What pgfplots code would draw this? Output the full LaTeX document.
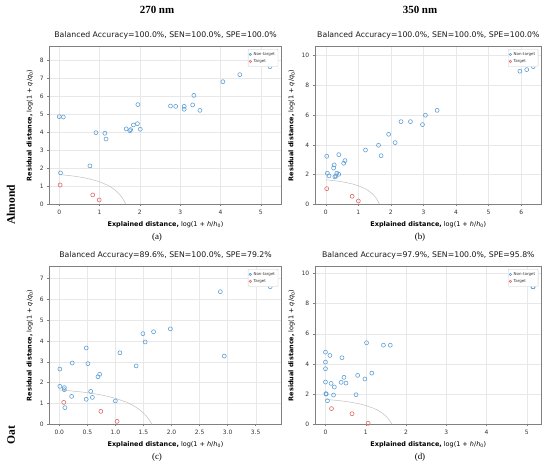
\documentclass[border=0pt]{standalone}
\usepackage{pgfplots}
\pgfplotsset{compat=1.18}
\usepackage{fontspec}
\setmainfont{DejaVu Sans}
\newfontfamily\serifrm{Liberation Serif}
\definecolor{mblue}{RGB}{95,160,215}
\definecolor{mred}{RGB}{224,105,105}
\pgfplotsset{
  panel/.style={
    scale only axis, anchor=south west,
    width=232.4bp, height=157.6bp,
    ymin=0,
    axis line style={draw=black!50, line width=0.5pt},
    tick style={draw=black!50, line width=0.4pt},
    tick align=outside, major tick length=2.2pt,
    tick pos=left,
    grid=major, grid style={draw=black!9, line width=0.3pt},
    /pgf/number format/assume math mode=true,
    ticklabel style={font=\fontsize{6}{7}\selectfont, text=black!80},
    label style={font=\fontsize{6.5}{8}\selectfont, text=black},
    xlabel={\textbf{Explained distance,} log(1 + \textit{h}/\textit{h}\textsubscript{0})},
    ylabel={\textbf{Residual distance,} log(1 + \textit{q}/\textit{q}\textsubscript{0})},
    title style={font=\fontsize{7.8}{9}\selectfont, text=black!90, inner sep=1pt},
    legend style={font=\fontsize{4}{4.5}\selectfont, at={(0.985,0.985)}, anchor=north east, draw=black!20, rounded corners=1pt, inner sep=1pt, row sep=-1.5pt, text=black!80},
    legend cell align=left,
    legend image post style={mark size=1.2pt},
  },
  nt/.style={only marks, mark=o, mark size=2pt, mblue, mark options={line width=0.6pt}},
  tg/.style={only marks, mark=o, mark size=2pt, mred, mark options={line width=0.6pt}},
  bd/.style={no marks, draw=black!25, line width=0.5pt, forget plot},
}
\begin{document}
\begin{tikzpicture}
\useasboundingbox (0bp,0bp) rectangle (550bp,468bp);

% (a)
\begin{axis}[panel, at={(49.3bp,263.7bp)}, xmin=-0.248, xmax=5.52, ymax=8.74,
  xtick={0,1,2,3,4,5}, ytick={0,1,2,3,4,5,6,7,8},
  title={Balanced Accuracy=100.0\%, SEN=100.0\%, SPE=100.0\%}]
\addplot[bd] coordinates {(0,1.6487) (0.2,1.6051) (0.4,1.5493) (0.6,1.4766) (0.8,1.3799) (1.0,1.2476) (1.2,1.0578) (1.3,0.9286) (1.4,0.7631) (1.45,0.6611) (1.5,0.5413) (1.55,0.3978) (1.58,0.2964) (1.6,0.2207) (1.62,0.1371) (1.635,0.068) (1.6487,0)};
\addplot[nt] coordinates {(0.00,4.86)(0.10,4.84)(0.03,1.74)(0.76,2.13)(0.91,3.97)(1.13,3.94)(1.16,3.62)(1.66,4.18)(1.75,4.08)(1.77,4.14)(1.84,4.40)(1.94,4.47)(1.95,5.53)(2.01,4.16)(2.76,5.45)(2.89,5.43)(3.10,5.27)(3.10,5.43)(3.34,6.04)(3.31,5.51)(3.49,5.21)(4.06,6.80)(4.48,7.19)(5.23,7.63)};
\addlegendentry{Non-target}
\addplot[tg] coordinates {(0.02,1.07)(0.83,0.52)(0.99,0.24)};
\addlegendentry{Target}
\end{axis}

% (b)
\begin{axis}[panel, at={(315bp,263.7bp)}, width=226.7bp, xmin=-0.33, xmax=6.63, ymax=10.6,
  xtick={0,1,2,3,4,5,6}, ytick={0,2,4,6,8,10},
  title={Balanced Accuracy=100.0\%, SEN=100.0\%, SPE=100.0\%}]
\addplot[bd] coordinates {(0,1.6487) (0.2,1.6051) (0.4,1.5493) (0.6,1.4766) (0.8,1.3799) (1.0,1.2476) (1.2,1.0578) (1.3,0.9286) (1.4,0.7631) (1.45,0.6611) (1.5,0.5413) (1.55,0.3978) (1.58,0.2964) (1.6,0.2207) (1.62,0.1371) (1.635,0.068) (1.6487,0)};
\addplot[nt] coordinates {(0.03,3.23)(0.05,2.09)(0.10,1.91)(0.24,2.44)(0.26,2.65)(0.28,1.84)(0.31,1.91)(0.34,2.09)(0.40,2.02)(0.40,3.34)(0.55,2.76)(0.59,2.94)(1.22,3.65)(1.62,3.97)(1.70,3.27)(1.93,4.71)(2.13,4.15)(2.31,5.56)(2.60,5.56)(2.97,5.36)(3.06,5.99)(3.42,6.32)(5.96,8.95)(6.17,9.06)(6.37,9.26)};
\addlegendentry{Non-target}
\addplot[tg] coordinates {(0.03,1.05)(0.81,0.54)(1.00,0.22)};
\addlegendentry{Target}
\end{axis}

% (c)
\begin{axis}[panel, at={(49.3bp,43.7bp)}, xmin=-0.178, xmax=3.964, ymax=7.56,
  xtick={0,0.5,1,1.5,2,2.5,3,3.5}, ytick={0,1,2,3,4,5,6,7},
  xticklabel style={/pgf/number format/.cd, fixed, fixed zerofill, precision=1},
  title={Balanced Accuracy=89.6\%, SEN=100.0\%, SPE=79.2\%}]
\addplot[bd] coordinates {(0,1.6487) (0.2,1.6051) (0.4,1.5493) (0.6,1.4766) (0.8,1.3799) (1.0,1.2476) (1.2,1.0578) (1.3,0.9286) (1.4,0.7631) (1.45,0.6611) (1.5,0.5413) (1.55,0.3978) (1.58,0.2964) (1.6,0.2207) (1.62,0.1371) (1.635,0.068) (1.6487,0)};
\addplot[nt] coordinates {(0.01,2.65)(0.01,1.82)(0.09,1.76)(0.09,1.66)(0.10,0.80)(0.23,2.94)(0.22,1.34)(0.48,3.66)(0.51,2.91)(0.48,1.20)(0.56,1.58)(0.59,1.29)(0.69,2.28)(0.72,2.40)(1.00,1.12)(1.08,3.43)(1.37,2.80)(1.49,4.35)(1.53,3.95)(1.68,4.44)(1.98,4.58)(2.87,6.36)(2.94,3.27)(3.76,6.60)};
\addlegendentry{Non-target}
\addplot[tg] coordinates {(0.08,1.05)(0.74,0.62)(1.03,0.14)};
\addlegendentry{Target}
\end{axis}

% (d)
\begin{axis}[panel, at={(315bp,43.7bp)}, width=226.7bp, xmin=-0.26, xmax=5.37, ymax=10.44,
  xtick={0,1,2,3,4,5}, ytick={0,2,4,6,8,10},
  title={Balanced Accuracy=97.9\%, SEN=100.0\%, SPE=95.8\%}]
\addplot[bd] coordinates {(0,1.6487) (0.2,1.6051) (0.4,1.5493) (0.6,1.4766) (0.8,1.3799) (1.0,1.2476) (1.2,1.0578) (1.3,0.9286) (1.4,0.7631) (1.45,0.6611) (1.5,0.5413) (1.55,0.3978) (1.58,0.2964) (1.6,0.2207) (1.62,0.1371) (1.635,0.068) (1.6487,0)};
\addplot[nt] coordinates {(0.0,4.78)(0.0,4.12)(0.0,3.68)(0.0,2.80)(0.01,2.03)(0.02,2.00)(0.05,1.56)(0.11,4.56)(0.14,2.71)(0.20,1.94)(0.22,2.47)(0.39,2.78)(0.41,4.41)(0.46,3.11)(0.51,2.73)(0.76,1.96)(0.80,3.24)(0.98,3.00)(1.02,5.40)(1.15,3.39)(1.44,5.24)(1.61,5.24)(5.15,9.10)(5.16,9.11)};
\addlegendentry{Non-target}
\addplot[tg] coordinates {(0.15,1.04)(0.66,0.70)(1.06,0.07)};
\addlegendentry{Target}
\end{axis}

\node[font=\serifrm\bfseries\fontsize{11}{13}\selectfont] at (157bp,458bp) {270 nm};
\node[font=\serifrm\bfseries\fontsize{11}{13}\selectfont] at (420bp,458bp) {350 nm};
\node[rotate=90, font=\serifrm\bfseries\fontsize{11.6}{13}\selectfont] at (11bp,263bp) {Almond};
\node[rotate=90, font=\serifrm\bfseries\fontsize{11.6}{13}\selectfont] at (11bp,33bp) {Oat};
\node[font=\serifrm\fontsize{9}{11}\selectfont] at (157bp,231bp) {(a)};
\node[font=\serifrm\fontsize{9}{11}\selectfont] at (420bp,231bp) {(b)};
\node[font=\serifrm\fontsize{9}{11}\selectfont] at (157bp,11bp) {(c)};
\node[font=\serifrm\fontsize{9}{11}\selectfont] at (420bp,11bp) {(d)};
\end{tikzpicture}
\end{document}
